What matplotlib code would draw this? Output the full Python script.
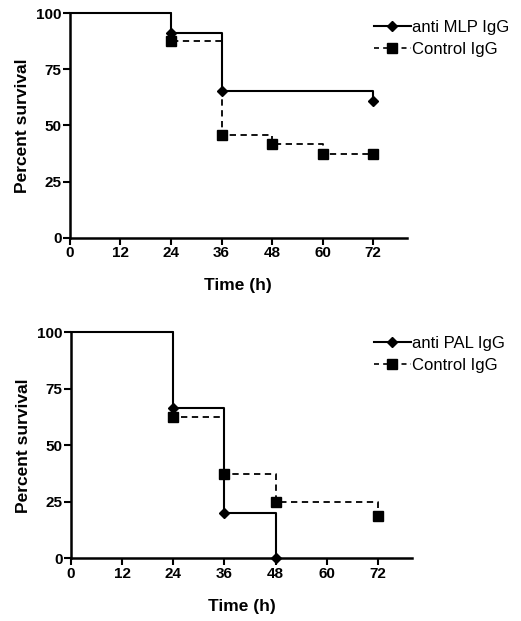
import matplotlib
matplotlib.use("Agg")
import matplotlib.pyplot as plt

plt.rcParams['font.family'] = ['Liberation Sans', 'DejaVu Sans']

# survival curves (time in h, percent survival)
mlp_t = [0, 24, 36, 72]
mlp_s = [100, 91.3, 65.2, 60.9]
mlp_ctrl_t = [0, 24, 36, 48, 60, 72]
mlp_ctrl_s = [100, 87.5, 45.8, 41.7, 37.5, 37.5]

pal_t = [0, 24, 36, 48]
pal_s = [100, 66.7, 20.0, 0]
pal_ctrl_t = [0, 24, 36, 48, 72]
pal_ctrl_s = [100, 62.5, 37.5, 25.0, 18.75]

x_ticks = [0, 12, 24, 36, 48, 60, 72]
y_ticks = [0, 25, 50, 75, 100]

panels = [
    ("anti MLP IgG", mlp_t, mlp_s, mlp_ctrl_t, mlp_ctrl_s),
    ("anti PAL IgG", pal_t, pal_s, pal_ctrl_t, pal_ctrl_s),
]

fig = plt.figure(figsize=(5.21, 6.21), dpi=100)
axes = [fig.add_axes([0.134, 0.617, 0.647, 0.362]),
        fig.add_axes([0.136, 0.101, 0.655, 0.364])]
leg_y = [0.982, 0.473]

for ax, (name, t1, s1, t2, s2), ly in zip(axes, panels, leg_y):
    # solid curve = antibody, dashed = control
    ax.step(t2, s2, where='post', color='black', lw=1.3, ls=(0, (3.5, 2.5)),
            clip_on=False)
    ax.plot(t2[1:], s2[1:], 's', color='black', ms=7, clip_on=False)
    ax.step(t1, s1, where='post', color='black', lw=1.5, clip_on=False)
    ax.plot(t1[1:], s1[1:], 'D', color='black', ms=5.5, clip_on=False)

    h1, = ax.plot([], [], '-D', color='black', lw=1.5, ms=5)
    h2, = ax.plot([], [], 's', color='black', ms=6.5, ls=(0, (3, 2.5)), lw=1.2)
    fig.legend([h1, h2], [name, "Control IgG"], loc='upper left',
               bbox_to_anchor=(0.702, ly), frameon=False, fontsize=12,
               handlelength=2.2, handletextpad=0.1, borderpad=0,
               labelspacing=0.45)

    ax.set_xlim(0, 80)
    ax.set_ylim(0, 100)
    ax.set_xticks(x_ticks)
    ax.set_yticks(y_ticks)
    for lab in ax.get_xticklabels() + ax.get_yticklabels():
        lab.set_fontweight('bold')
        lab.set_fontsize(11)
    ax.tick_params(width=1.5, length=5, pad=1)
    ax.spines['top'].set_visible(False)
    ax.spines['right'].set_visible(False)
    ax.spines['left'].set_linewidth(1.8)
    ax.spines['bottom'].set_linewidth(1.8)
    ax.set_xlabel('Time (h)', fontweight='bold', fontsize=12.5, labelpad=13)
    ax.set_ylabel('Percent survival', fontweight='bold', fontsize=12.5,
                  labelpad=4)

fig.savefig('out.png', dpi=100)
